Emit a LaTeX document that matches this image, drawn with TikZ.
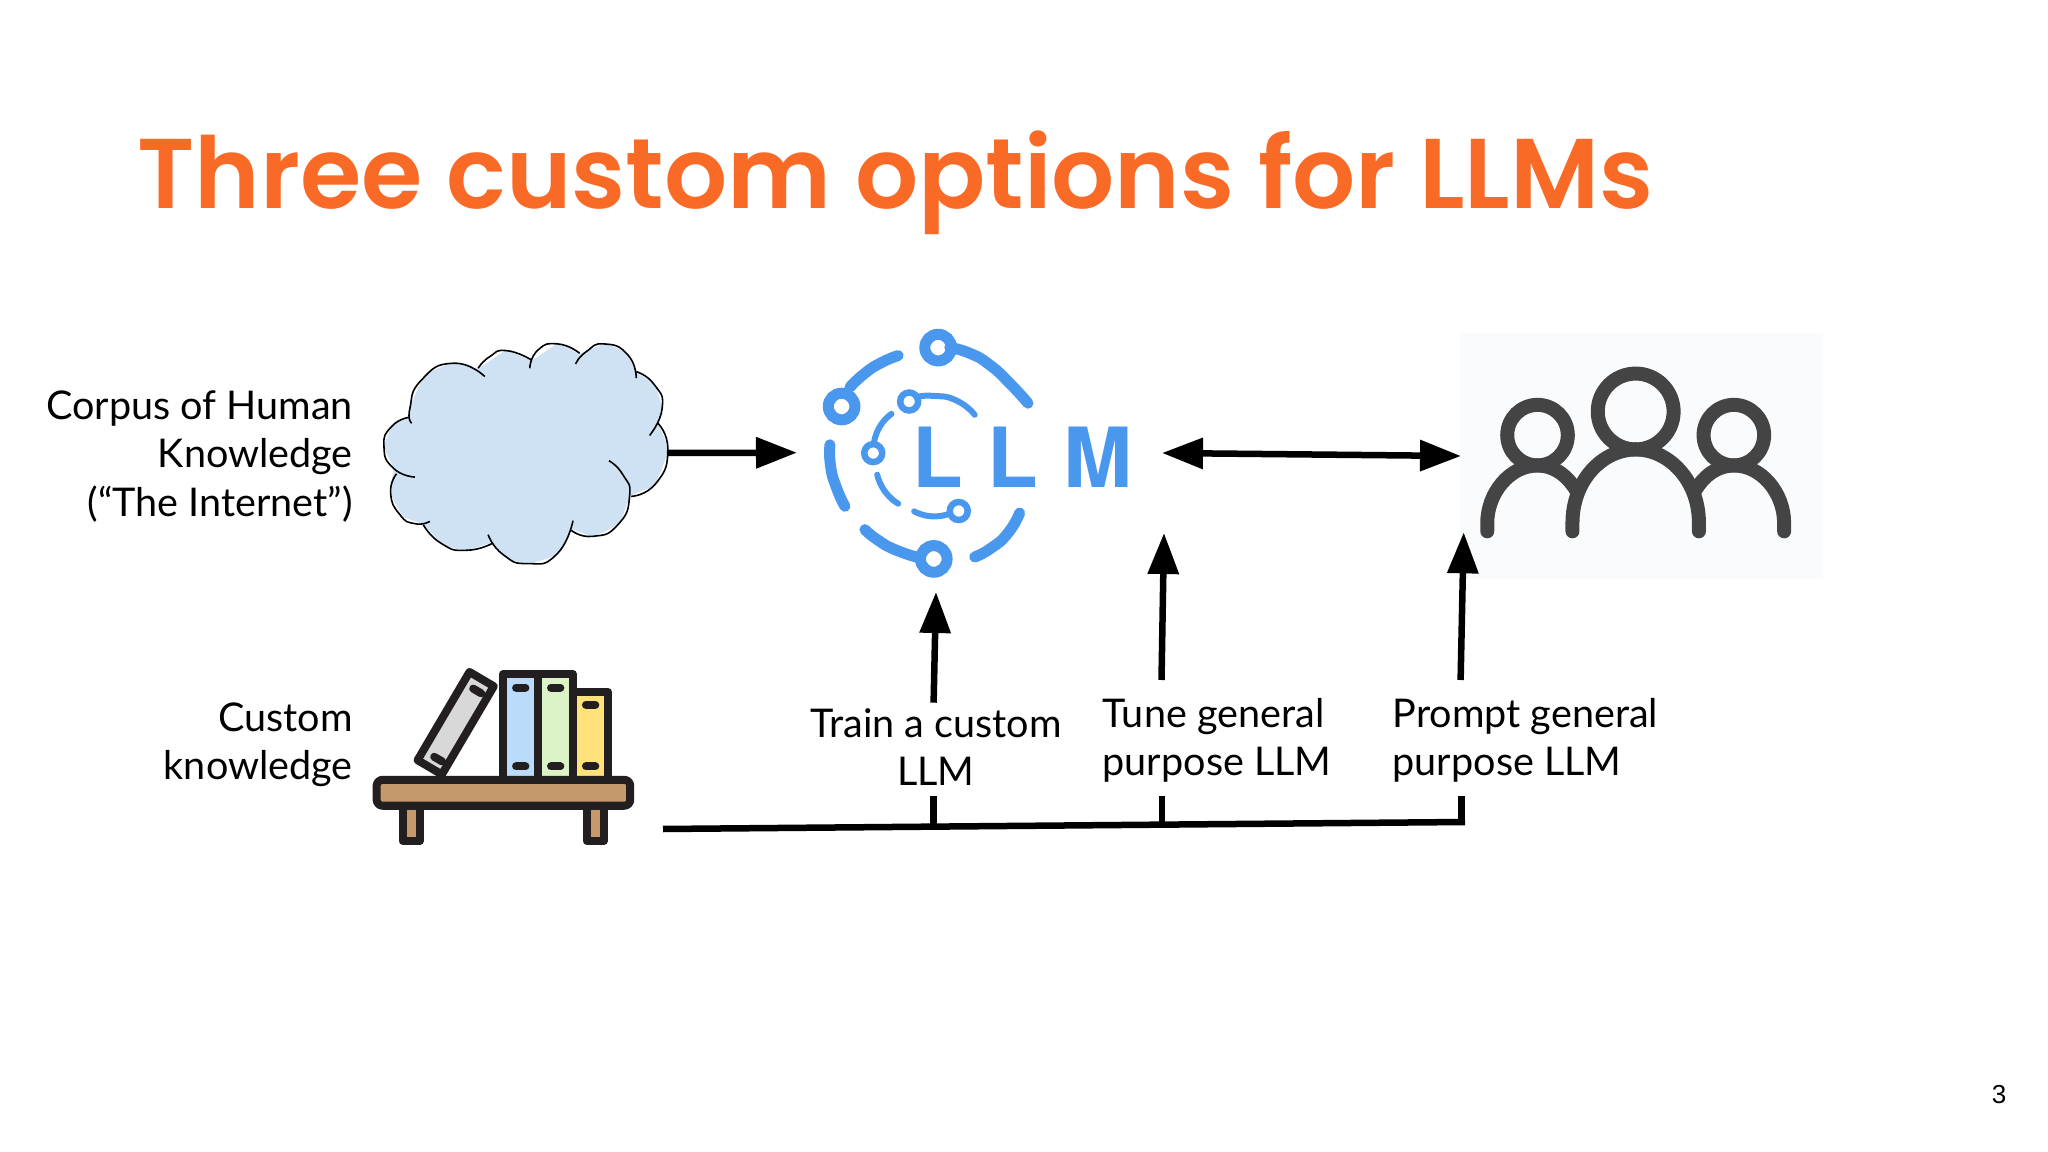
\documentclass[tikz,border=0pt]{standalone}
\usepackage{fontspec}
\usetikzlibrary{arrows.meta}
\setmainfont{Lato}
\newfontfamily\titlefont{Poppins SemiBold}
\newfontfamily\logofont{TeX Gyre Heros}[LetterSpace=30]
\newfontfamily\pagefont{Liberation Sans}
\definecolor{titleorange}{HTML}{F96A26}
\definecolor{cloudblue}{HTML}{CFE2F3}
\definecolor{logoblue}{HTML}{4A98EE}
\definecolor{peoplegrey}{HTML}{444444}
\definecolor{peoplebg}{HTML}{F9FBFC}
\definecolor{shelfdark}{HTML}{231F20}
\definecolor{shelfwood}{HTML}{C49A6C}
\definecolor{bookgrey}{HTML}{D8D8D8}
\definecolor{bookblue}{HTML}{BBDBFB}
\definecolor{bookgreen}{HTML}{DCF3C8}
\definecolor{bookyellow}{HTML}{FFE27A}
\tikzset{
  icon/.style={shift={(#1)},x=0.003333cm,y=-0.003333cm},
  label/.style={font=\fontsize{11.25pt}{13.7pt}\selectfont,inner sep=0pt},
  link/.style={black,line width=0.65mm},
  feed/.style={link,-{Triangle[length=4.1mm,width=3mm]}},
  both/.style={link,{Triangle[length=4.1mm,width=3mm]}-{Triangle[length=4.1mm,width=3mm]}},
  puff/.style={black,line width=0.16mm},
  ringbig/.style={logoblue,line width=1.1mm,line cap=round},
  ringsmall/.style={logoblue,line width=0.6mm,line cap=round},
  person/.style={peoplegrey,line width=1.4mm,line cap=round},
  ink/.style={shelfdark,line width=0.8mm,line join=round},
  tag/.style={shelfdark,line width=0.8mm,line cap=round}
}
\begin{document}
\begin{tikzpicture}[x=0.01cm,y=-0.01cm]
    \useasboundingbox (0,0) rectangle (2048,1152);

    % Title and page number
    \node[anchor=base west,inner sep=0pt,text=titleorange,font=\titlefont\fontsize{28.2pt}{30pt}\selectfont] (title) at (137,209) {Three custom options for LLMs};
    \node[inner sep=0pt,font=\pagefont\fontsize{7.4pt}{9pt}\selectfont] (pagenum) at (1999,1095) {3};

    % Cloud
    \begin{scope}[icon={360,320}]
        \fill[cloudblue] plot[smooth cycle,tension=0.3] coordinates {(72,380) (100,445) (92,520) (130,590) (190,615) (250,675) (320,692) (395,672) (440,715) (505,732) (590,705) (637,632) (700,650) (780,610) (812,530) (885,495) (925,390) (897,310) (908,265) (885,195) (830,155) (800,100) (735,72) (660,100) (595,72) (515,120) (440,92) (355,145) (280,130) (195,165) (150,265) (150,292) (100,315)};
        \draw[puff] plot[smooth,tension=1] coordinates {(375,170) (280,130) (185,180) (150,265) (155,310)};
        \draw[puff] plot[smooth,tension=1] coordinates {(150,292) (95,320) (72,380) (100,445) (165,472)};
        \draw[puff] plot[smooth,tension=1] coordinates {(110,462) (92,520) (120,585) (165,612) (210,605)};
        \draw[puff] plot[smooth,tension=1] coordinates {(190,615) (245,672) (320,692) (400,670)};
        \draw[puff] plot[smooth,tension=1] coordinates {(385,645) (430,705) (505,732) (590,705) (640,603)};
        \draw[puff] plot[smooth,tension=1] coordinates {(635,632) (700,650) (775,615) (810,530) (790,465) (748,423)};
        \draw[puff] plot[smooth,tension=1] coordinates {(815,530) (890,490) (925,390) (895,310)};
        \draw[puff] plot[smooth,tension=1] coordinates {(870,347) (908,265) (885,195) (830,155)};
        \draw[puff] plot[smooth,tension=1] coordinates {(830,175) (805,105) (735,72) (680,95) (648,132)};
        \draw[puff] plot[smooth,tension=1] coordinates {(660,100) (595,72) (535,90) (510,145)};
        \draw[puff] plot[smooth,tension=1] coordinates {(515,120) (440,92) (390,110) (355,145)};
    \end{scope}

    % LLM logo
    \begin{scope}[icon={800,310}]
        \foreach \cx/\cy in {415/113,125/290,402/748}
            \draw[logoblue,line width=1.1mm] (\cx,\cy) circle[radius=40];
        \foreach \cx/\cy in {328/275,220/430,477/604}
            \draw[logoblue,line width=0.65mm] (\cx,\cy) circle[radius=27];
        \draw[ringbig] plot[smooth,tension=1] coordinates {(150,232) (195,190) (245,158) (295,137)};
        \draw[ringbig] plot[smooth,tension=1] coordinates {(450,113) (510,130) (570,165) (630,220) (685,280)};
        \draw[ringbig] plot[smooth,tension=1] coordinates {(90,405) (92,470) (110,535) (135,590)};
        \draw[ringbig] plot[smooth,tension=1] coordinates {(195,660) (235,692) (290,722) (360,745)};
        \draw[ringbig] plot[smooth,tension=1] coordinates {(525,742) (575,715) (625,670) (660,610)};
        \draw[ringsmall] plot[smooth,tension=1] coordinates {(350,262) (400,258) (470,272) (525,315)};
        \draw[ringsmall] plot[smooth,tension=1] coordinates {(275,312) (240,350) (222,400)};
        \draw[ringsmall] plot[smooth,tension=1] coordinates {(232,495) (255,545) (295,582)};
        \draw[ringsmall] plot[smooth,tension=1] coordinates {(343,605) (395,620) (450,612)};
        \node[anchor=base west,inner sep=0pt,text=logoblue,font=\logofont\bfseries\fontsize{23.6pt}{25pt}\selectfont] (logotext) at (335,533) {LLM};
    \end{scope}

    % People
    \begin{scope}[icon={1440,320}]
        \fill[peoplebg] (60,38) rectangle (1152,778);
        \draw[peoplegrey,line width=1.4mm] (293,346) circle[radius=91];
        \draw[peoplegrey,line width=1.4mm] (588,275) circle[radius=114];
        \draw[peoplegrey,line width=1.4mm] (883,346) circle[radius=91];
        \draw[person] (142,635) -- (142,610) .. controls (142,520) and (210,437) .. (293,437) .. controls (340,437) and (380,465) .. (408,510);
        \draw[person] (1034,635) -- (1034,610) .. controls (1034,520) and (966,437) .. (883,437) .. controls (836,437) and (796,465) .. (768,510);
        \draw[person] (398,635) -- (398,610) .. controls (398,480) and (490,389) .. (588,389) .. controls (686,389) and (778,480) .. (778,610) -- (778,635);
    \end{scope}

    % Book shelf
    \begin{scope}[icon={360,650}]
        \filldraw[ink,fill=bookgrey] (329,66) -- (402,109) -- (246,374) -- (173,331) -- cycle;
        \draw[tag] (340,116) -- (364,130);
        \draw[tag] (223,321) -- (247,335);
        \filldraw[ink,fill=bookblue] (430,73) rectangle (535,390);
        \filldraw[ink,fill=bookgreen] (535,73) rectangle (640,390);
        \filldraw[ink,fill=bookyellow] (640,126) rectangle (745,390);
        \foreach \cx/\cy in {483/113,483/350,588/113,588/350,693/165,693/350}
            \draw[tag] (\cx-14,\cy) -- (\cx+14,\cy);
        \filldraw[ink,fill=shelfwood] (128,468) rectangle (180,574);
        \filldraw[ink,fill=shelfwood] (681,468) rectangle (733,574);
        \filldraw[ink,fill=shelfwood,rounded corners=0.6mm] (50,390) rectangle (812,468);
    \end{scope}

    % Labels
    \node[label,anchor=east,align=right] (corpus) at (353.5,456.5) {Corpus of Human\\Knowledge\\(“The Internet”)};
    \node[label,anchor=east,align=right] (customk) at (353.5,745) {Custom\\knowledge};
    \node[label,align=center] (train) at (936,747) {Train a custom\\LLM};
    \node[label,anchor=west,align=left] (tune) at (1102,740) {Tune general\\purpose LLM};
    \node[label,anchor=west,align=left] (prompt) at (1392,740) {Prompt general\\purpose LLM};

    % Connector ends
    \coordinate (cloudout) at (668,453);
    \coordinate (llmin) at (797,452.7);
    \coordinate (llmout) at (1162,453);
    \coordinate (usersin) at (1461,456);
    \coordinate (trainup) at (933.6,702.7);
    \coordinate (traintip) at (936,592);
    \coordinate (tuneup) at (1161.5,680);
    \coordinate (tunetip) at (1164,533);
    \coordinate (promptup) at (1460.6,680);
    \coordinate (prompttip) at (1463.7,532.3);
    \coordinate (shelfout) at (663,829);
    \coordinate (trunkend) at (1465,822);
    \coordinate (trainstub) at (933.6,796);
    \coordinate (trainfoot) at (933.6,826);
    \coordinate (tunestub) at (1162,796);
    \coordinate (tunefoot) at (1162,824);
    \coordinate (promptstub) at (1461.5,796);
    \coordinate (promptfoot) at (1461.5,822);

    % Arrows
    \draw[feed] (cloudout) -- (llmin);
    \draw[both] (llmout) -- (usersin);
    \draw[feed] (trainup) -- (traintip);
    \draw[feed] (tuneup) -- (tunetip);
    \draw[feed] (promptup) -- (prompttip);
    \draw[link] (shelfout) -- (trunkend);
    \draw[link] (trainstub) -- (trainfoot);
    \draw[link] (tunestub) -- (tunefoot);
    \draw[link] (promptstub) -- (promptfoot);
\end{tikzpicture}
\end{document}
